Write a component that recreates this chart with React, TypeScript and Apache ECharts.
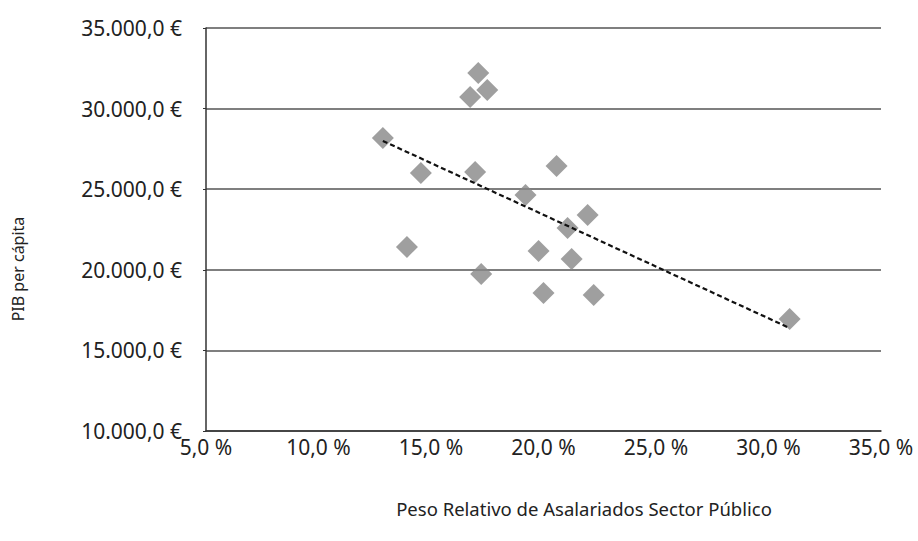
import React, { useEffect, useRef } from "react";
import * as echarts from "echarts";

const pesoPublico = [17.1, 17.5, 16.74, 12.86, 14.55, 16.96, 20.58, 19.2, 21.96, 21.07, 13.93, 19.78, 21.25, 17.23, 20.0, 22.23, 30.94];
const pibPerCapita = [32209, 31154, 30720, 28177, 26006, 26067, 26440, 24641, 23400, 22594, 21416, 21167, 20671, 19741, 18562, 18438, 16950];
const xTicks = [5, 10, 15, 20, 25, 30, 35];
const yTicks = [10000, 15000, 20000, 25000, 30000, 35000];

const FONT = "'Noto Sans', 'Open Sans', sans-serif";

function fmtEuro(v: number) {
  const s = Math.round(v).toString().replace(/\B(?=(\d{3})+(?!\d))/g, ".");
  return s + ",0 €";
}

function regression(xs: number[], ys: number[]) {
  const n = xs.length;
  const mx = xs.reduce((a, b) => a + b, 0) / n;
  const my = ys.reduce((a, b) => a + b, 0) / n;
  let sxy = 0, sxx = 0;
  for (let i = 0; i < n; i++) {
    sxy += (xs[i] - mx) * (ys[i] - my);
    sxx += (xs[i] - mx) * (xs[i] - mx);
  }
  const b = sxy / sxx;
  const a = my - b * mx;
  return { a, b };
}

export default function App() {
  const ref = useRef<HTMLDivElement>(null);
  useEffect(() => {
    document.body.style.margin = "0";
    if (!ref.current) return;
    const chart = echarts.init(ref.current, null, { renderer: "svg" });
    const { a, b } = regression(pesoPublico, pibPerCapita);
    const xmin = Math.min(...pesoPublico);
    const xmax = Math.max(...pesoPublico);
    const trend = [
      [xmin, a + b * xmin],
      [xmax, a + b * xmax],
    ];
    chart.setOption({
      animation: false,
      backgroundColor: "#ffffff",
      textStyle: { fontFamily: FONT },
      grid: { left: 206, top: 28, right: 37, bottom: 110, containLabel: false },
      xAxis: {
        type: "value",
        min: xTicks[0],
        max: xTicks[xTicks.length - 1],
        interval: 5,
        axisLine: { show: true, lineStyle: { color: "#333", width: 1.5 } },
        axisTick: { show: false },
        splitLine: { show: false },
        axisLabel: {
          margin: 5,
          fontSize: 21,
          color: "#222",
          fontFamily: FONT,
          formatter: (v: number) => v.toFixed(1).replace(".", ",") + " %",
        },
      },
      yAxis: {
        type: "value",
        min: yTicks[0],
        max: yTicks[yTicks.length - 1],
        interval: 5000,
        axisLine: { show: true, lineStyle: { color: "#333", width: 1.5 } },
        axisTick: { show: true, length: 3, lineStyle: { color: "#333" } },
        splitLine: { show: true, lineStyle: { color: "#555", width: 1.5 } },
        axisLabel: {
          margin: 24,
          fontSize: 21,
          color: "#222",
          fontFamily: FONT,
          formatter: (v: number) => fmtEuro(v),
        },
      },
      graphic: [
        {
          type: "text",
          x: 584,
          y: 508,
          style: {
            text: "Peso Relativo de Asalariados Sector Público",
            fontSize: 18.5,
            fill: "#222",
            fontFamily: FONT,
            align: "center",
            verticalAlign: "middle",
          },
        },
        {
          type: "text",
          x: 18,
          y: 269,
          rotation: Math.PI / 2,
          style: {
            text: "PIB per cápita",
            fontSize: 16,
            fill: "#222",
            fontFamily: FONT,
            align: "center",
            verticalAlign: "middle",
          },
        },
      ],
      series: [
        {
          type: "scatter",
          data: pesoPublico.map((x, i) => [x, pibPerCapita[i]]),
          symbol: "diamond",
          symbolSize: 22,
          itemStyle: { color: "#878787" },
          z: 3,
        },
        {
          type: "line",
          data: trend,
          symbol: "none",
          lineStyle: { color: "#111", width: 2.2, type: [5, 3] },
          z: 4,
        },
      ],
    });
    return () => chart.dispose();
  }, []);
  return <div ref={ref} style={{ width: 918, height: 541 }} />;
}
